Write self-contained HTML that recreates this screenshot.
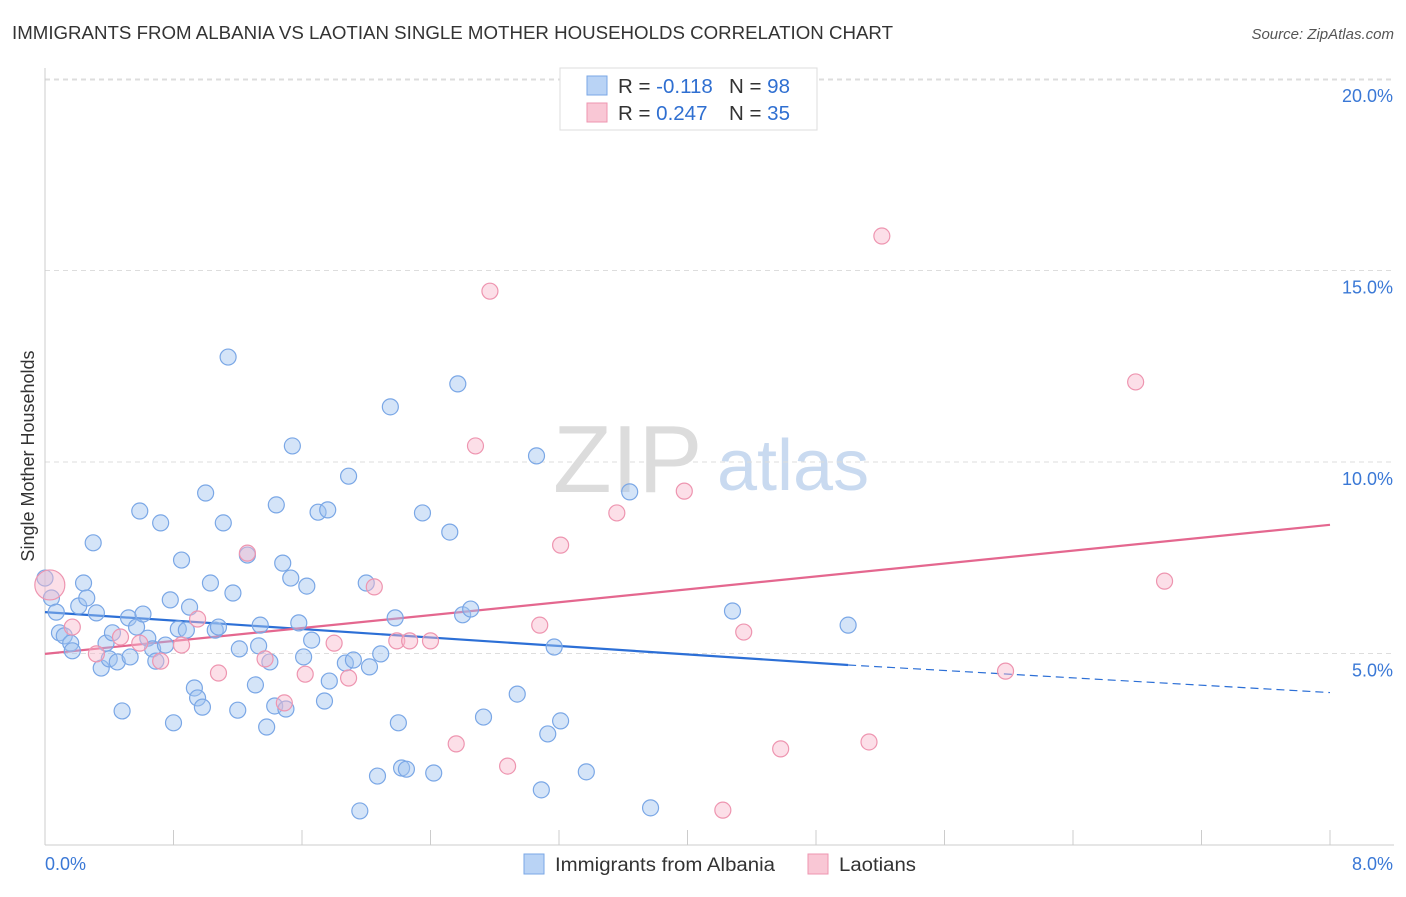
<!DOCTYPE html>
<html><head><meta charset="utf-8"><style>
body{margin:0;background:#fff;font-family:"Liberation Sans",sans-serif;}
svg text{font-family:"Liberation Sans",sans-serif;}
</style></head><body>
<svg id="chart" width="1406" height="892" viewBox="0 0 1406 892" xmlns="http://www.w3.org/2000/svg">
<text x="12" y="39" font-size="18" fill="#333" textLength="881" lengthAdjust="spacingAndGlyphs">IMMIGRANTS FROM ALBANIA VS LAOTIAN SINGLE MOTHER HOUSEHOLDS CORRELATION CHART</text>
<text x="1394" y="39" font-size="15" fill="#555" font-style="italic" text-anchor="end">Source: ZipAtlas.com</text>
<g><text x="553" y="492" font-size="96" fill="#dcdcdc" font-family="Liberation Serif">ZIP</text><text x="717" y="490" font-size="72" fill="#c9daf0">atlas</text></g>
<g id="grid"></g><g id="axes"></g><g id="trends"></g><g id="points"></g>
<text transform="translate(34,456) rotate(-90)" font-size="18" fill="#333" text-anchor="middle">Single Mother Households</text>
<g>
<rect x="560" y="68" width="257" height="62" fill="#fff" stroke="#ddd"/>
<rect x="587" y="76" width="20" height="19" fill="#b9d3f5" stroke="#7aa7e6"/>
<rect x="587" y="103" width="20" height="19" fill="#f9c7d5" stroke="#ee95b0"/>
<text x="618" y="93" font-size="20.5" fill="#333">R = <tspan fill="#2f6fd1">-0.118</tspan></text>
<text x="729" y="93" font-size="20.5" fill="#333">N = <tspan fill="#2f6fd1">98</tspan></text>
<text x="618" y="120" font-size="20.5" fill="#333">R = <tspan fill="#2f6fd1">0.247</tspan></text>
<text x="729" y="120" font-size="20.5" fill="#333">N = <tspan fill="#2f6fd1">35</tspan></text>
</g>
<g>
<rect x="524" y="854" width="20" height="20" fill="#b9d3f5" stroke="#7aa7e6"/>
<text x="555" y="871" font-size="19" fill="#333" textLength="220" lengthAdjust="spacingAndGlyphs">Immigrants from Albania</text>
<rect x="808" y="854" width="20" height="20" fill="#f9c7d5" stroke="#ee95b0"/>
<text x="839" y="871" font-size="19" fill="#333" textLength="77" lengthAdjust="spacingAndGlyphs">Laotians</text>
</g>
</svg>
<script>
const blueX=[0.00,0.04,0.07,0.09,0.12,0.16,0.17,0.21,0.24,0.26,0.30,0.32,0.35,0.38,0.40,0.42,0.45,0.48,0.52,0.53,0.57,0.59,0.61,0.64,0.67,0.69,0.72,0.75,0.78,0.80,0.83,0.85,0.88,0.90,0.93,0.95,0.98,1.00,1.03,1.06,1.08,1.11,1.14,1.17,1.20,1.21,1.26,1.31,1.33,1.34,1.38,1.40,1.43,1.44,1.48,1.50,1.53,1.54,1.58,1.61,1.63,1.66,1.70,1.74,1.76,1.77,1.87,1.89,1.92,1.96,2.00,2.02,2.07,2.09,2.15,2.18,2.20,2.22,2.25,2.35,2.42,2.52,2.57,2.60,2.65,2.73,2.94,3.06,3.09,3.13,3.17,3.21,3.37,3.64,3.77,4.28,5.00];
const blueY=[6.97,6.45,6.08,5.54,5.46,5.27,5.07,6.24,6.84,6.45,7.89,6.06,4.62,5.27,4.86,5.54,4.78,3.50,5.93,4.91,5.69,8.72,6.03,5.40,5.12,4.80,8.41,5.22,6.40,3.19,5.64,7.44,5.61,6.21,4.10,3.84,3.60,9.19,6.84,5.61,5.69,8.41,12.74,6.58,3.52,5.12,7.57,4.18,5.20,5.74,3.08,4.78,3.63,8.88,7.36,3.55,6.97,10.42,5.80,4.91,6.76,5.35,8.69,3.76,8.75,4.28,4.75,9.63,4.83,0.89,6.84,4.65,1.80,4.99,11.44,5.93,3.19,2.01,1.98,8.67,1.88,8.17,12.04,6.01,6.16,3.34,3.94,10.16,1.44,2.90,5.17,3.24,1.91,9.22,0.97,6.11,5.74];
const pinkX=[0.03,0.17,0.32,0.47,0.59,0.72,0.85,0.95,1.08,1.26,1.37,1.49,1.62,1.80,1.89,2.05,2.19,2.27,2.40,2.56,2.68,2.77,2.88,3.08,3.21,3.56,3.98,4.22,4.35,4.58,5.13,5.21,5.98,6.79,6.97];
const pinkY=[6.79,5.69,4.99,5.43,5.27,4.80,5.22,5.90,4.49,7.62,4.86,3.71,4.46,5.27,4.36,6.74,5.33,5.33,5.33,2.64,10.42,14.46,2.06,5.74,7.83,8.67,9.24,0.91,5.56,2.51,2.69,15.90,4.54,12.09,6.89];
const blueTrendX=[0,5.0,8.0];
const blueTrendY=[6.08,4.70,3.98];
const pinkTrendX=[0,8.0];
const pinkTrendY=[4.99,8.36];
const yTicks=[5,10,15,20];
const yTickLabels=["5.0%","10.0%","15.0%","20.0%"];
const xTicks=[0,0.8,1.6,2.4,3.2,4.0,4.8,5.6,6.4,7.2,8.0];

const NS="http://www.w3.org/2000/svg";
const sx=v=>45+v/8*1285;
const sy=v=>845-v*38.3;
function mk(tag,attrs,parent){const e=document.createElementNS(NS,tag);for(const k in attrs)e.setAttribute(k,attrs[k]);document.getElementById(parent).appendChild(e);return e;}

yTicks.forEach((t,i)=>{
  const g=mk('line',{x1:45,x2:1394,y1:sy(t),y2:sy(t),stroke:'#ddd','stroke-dasharray':'5,4'},'grid');
  
  
  const l=mk('text',{x:1393,y:sy(t)+23,'font-size':18,fill:'#3a78d6','text-anchor':'end'},'grid');
  l.textContent=yTickLabels[i];
  
  
});
const gt=mk('line',{x1:45,x2:1394,y1:80,y2:80,stroke:'#ddd','stroke-dasharray':'5,4'},'grid');


const ya=mk('line',{x1:45,x2:45,y1:68,y2:845,stroke:'#ccc'},'axes');


const xa=mk('line',{x1:45,x2:1394,y1:845,y2:845,stroke:'#ccc'},'axes');


xTicks.forEach(t=>{
  const tk=mk('line',{x1:sx(t),x2:sx(t),y1:830,y2:845,stroke:'#ccc'},'axes');
  
  
});
const x0=mk('text',{x:45,y:870,'font-size':18,fill:'#3a78d6'},'axes');x0.textContent='0.0%';


const x1=mk('text',{x:1393,y:870,'font-size':18,fill:'#3a78d6','text-anchor':'end'},'axes');x1.textContent='8.0%';



blueX.forEach((x,i)=>{
  const c=mk('circle',{cx:sx(x),cy:sy(blueY[i]),r:8,fill:'rgba(160,195,240,0.45)',stroke:'#7aa7e6','stroke-width':1.2},'points');
  
  
});
pinkX.forEach((x,i)=>{
  const c=mk('circle',{cx:sx(x),cy:sy(pinkY[i]),r:i===0?15:8,fill:'rgba(248,185,205,0.45)',stroke:'#ee95b0','stroke-width':1.2},'points');
  
  
});
const bt=mk('line',{x1:sx(blueTrendX[0]),y1:sy(blueTrendY[0]),x2:sx(blueTrendX[1]),y2:sy(blueTrendY[1]),stroke:'#2c6fd6','stroke-width':2.2},'trends');


const bd=mk('line',{x1:sx(blueTrendX[1]),y1:sy(blueTrendY[1]),x2:sx(blueTrendX[2]),y2:sy(blueTrendY[2]),stroke:'#2c6fd6','stroke-width':1.2,'stroke-dasharray':'8,5'},'trends');


const pt=mk('line',{x1:sx(pinkTrendX[0]),y1:sy(pinkTrendY[0]),x2:sx(pinkTrendX[1]),y2:sy(pinkTrendY[1]),stroke:'#e4678f','stroke-width':2.2},'trends');


</script>
</body></html>
